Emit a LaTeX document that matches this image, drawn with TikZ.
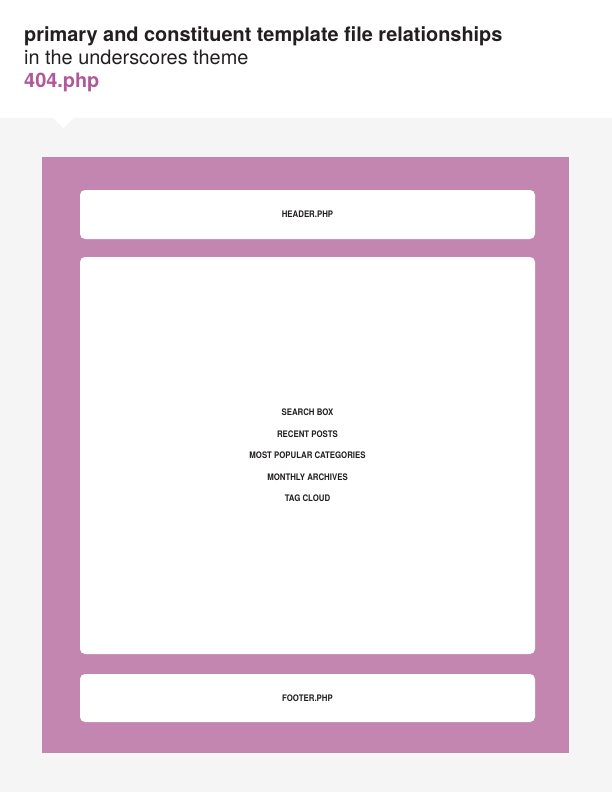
\documentclass[tikz,border=0pt]{standalone}
\usepackage{fontspec}
\setmainfont{TeX Gyre Heros}
\definecolor{bgray}{HTML}{F5F5F5}
\definecolor{purp}{HTML}{C386B0}
\definecolor{ttl}{HTML}{231F20}
\definecolor{pink}{HTML}{B0589A}
\begin{document}
\begin{tikzpicture}[x=1pt,y=-1pt,
  panel/.style={fill=white,rounded corners=5pt,draw=none},
  lbl/.style={font=\fontsize{9}{11}\selectfont\bfseries,text=ttl,inner sep=0pt,xscale=0.87},
  ttlstyle/.style={anchor=base west,inner sep=0pt,text=ttl}]
\useasboundingbox (0,0) rectangle (612,792);
\fill[bgray] (0,0) rectangle (612,792);
\fill[white] (0,0) rectangle (612,118);
\fill[white] (52,117) -- (75,117) -- (63.5,128) -- cycle;
\node[ttlstyle,font=\fontsize{19.9}{22}\selectfont\bfseries] (t1) at (24,41.5) {primary and constituent template file relationships};
\node[ttlstyle,font=\fontsize{19.9}{22}\selectfont] (t2) at (24,64.5) {in the underscores theme};
\node[ttlstyle,font=\fontsize{19.9}{22}\selectfont\bfseries,text=pink] (t3) at (24,87.5) {404.php};
\fill[purp] (42,157) rectangle (569,753);
\fill[panel] (80,190) rectangle (535,239);
\fill[panel] (80,257) rectangle (535,654);
\fill[panel] (80,674) rectangle (535,722);
\node[lbl] (hdr) at (307.5,214.5) {HEADER.PHP};
\node[lbl] (ftr) at (307.5,698.5) {FOOTER.PHP};
\node[lbl] (s1) at (307.5,412.5) {SEARCH BOX};
\node[lbl] (s2) at (307.5,434) {RECENT POSTS};
\node[lbl] (s3) at (307.5,455.5) {MOST POPULAR CATEGORIES};
\node[lbl] (s4) at (307.5,477) {MONTHLY ARCHIVES};
\node[lbl] (s5) at (307.5,498.5) {TAG CLOUD};
\end{tikzpicture}
\end{document}
